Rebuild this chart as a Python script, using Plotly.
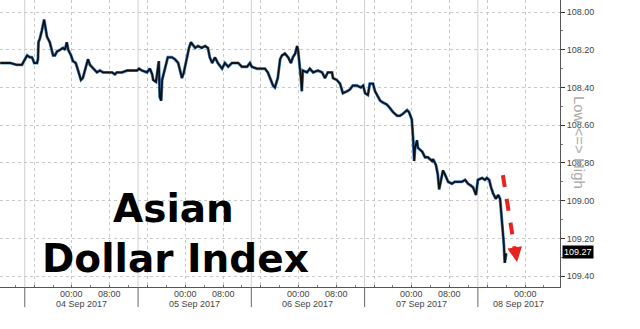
import plotly.graph_objects as go
import pandas as pd

# Hours relative to 04 Sep 2017 00:00 and index values
hours = [-15.2, -13.1, -11.7, -10.6, -10.4, -10.0, -9.5, -8.9, -8.5, -8.3, -8.0, -7.4, -7.2, -7.1, -6.8,
         -6.4, -6.1, -5.9, -5.5, -5.3, -4.7, -4.0, -3.6, -3.2, -2.5, -1.9, -1.5, -1.1, -0.8, -0.2,
         0.2, 0.8, 1.3, 1.9, 2.3, 2.8, 3.4, 3.8, 4.5, 5.3, 5.9, 6.6, 7.4, 8.5, 9.1, 9.5, 10.6, 11.7,
         12.7, 13.8, 14.2, 14.8, 15.9, 16.5, 17.0, 17.2, 17.8, 18.2, 18.4, 18.6, 18.9, 19.1, 19.5,
         20.1, 20.3, 21.2, 21.8, 22.5, 22.9, 23.3, 23.7, 24.4, 24.8, 25.2, 26.1, 26.7, 27.5, 28.2,
         28.8, 29.2, 29.7, 30.3, 30.9, 31.8, 32.4, 33.1, 33.9, 34.5, 35.2, 36.0, 37.1, 37.7, 38.1,
         39.2, 40.3, 40.9, 41.5, 42.2, 42.6, 43.0, 43.4, 43.6, 44.1, 44.5, 45.1, 45.8, 46.4, 46.8,
         47.3, 47.7, 47.9, 48.1, 48.5, 48.7, 48.9, 49.8, 50.4, 51.1, 52.1, 53.0, 53.6, 54.2, 55.1,
         55.3, 56.1, 56.8, 57.4, 58.3, 58.9, 59.5, 60.4, 61.2, 61.7, 62.1, 62.7, 63.1, 63.8, 64.2,
         64.6, 65.3, 65.9, 66.7, 67.4, 68.0, 68.9, 69.5, 70.1, 71.0, 71.4, 72.0, 72.3, 72.5, 72.7,
         73.1, 73.3, 74.2, 74.8, 75.4, 76.3, 76.5, 77.1, 77.5, 77.8, 78.2, 78.6, 79.0, 79.7, 80.5,
         81.1, 81.8, 82.6, 83.3, 83.9, 84.5, 85.0, 85.6, 86.0, 86.9, 87.5, 87.9, 88.4, 88.8, 89.2,
         89.8, 90.3, 90.7, 90.9, 91.3, 91.5, 91.7, 92.0]
values = [108.27, 108.27, 108.28, 108.28, 108.27, 108.25, 108.23, 108.24, 108.24, 108.25, 108.27, 108.27,
          108.25, 108.16, 108.14, 108.10, 108.05, 108.04, 108.10, 108.13, 108.16, 108.23, 108.23, 108.21,
          108.20, 108.19, 108.20, 108.16, 108.20, 108.23, 108.26, 108.27, 108.31, 108.36, 108.35, 108.30,
          108.25, 108.28, 108.30, 108.32, 108.31, 108.32, 108.32, 108.32, 108.33, 108.32, 108.32, 108.31,
          108.31, 108.31, 108.30, 108.31, 108.32, 108.30, 108.33, 108.36, 108.37, 108.27, 108.26, 108.45,
          108.47, 108.36, 108.32, 108.27, 108.24, 108.24, 108.25, 108.27, 108.32, 108.35, 108.32, 108.23,
          108.19, 108.16, 108.19, 108.18, 108.19, 108.18, 108.19, 108.24, 108.27, 108.24, 108.27, 108.30,
          108.27, 108.29, 108.27, 108.27, 108.27, 108.29, 108.29, 108.27, 108.29, 108.30, 108.30, 108.30,
          108.32, 108.36, 108.39, 108.40, 108.37, 108.35, 108.25, 108.23, 108.22, 108.24, 108.27, 108.24,
          108.22, 108.18, 108.20, 108.24, 108.35, 108.42, 108.31, 108.32, 108.30, 108.32, 108.31, 108.32,
          108.35, 108.32, 108.32, 108.35, 108.36, 108.38, 108.43, 108.42, 108.41, 108.39, 108.39, 108.40,
          108.39, 108.43, 108.44, 108.38, 108.38, 108.42, 108.44, 108.47, 108.48, 108.49, 108.51, 108.53,
          108.55, 108.55, 108.54, 108.52, 108.53, 108.57, 108.68, 108.79, 108.72, 108.68, 108.72, 108.74,
          108.77, 108.77, 108.79, 108.78, 108.81, 108.86, 108.94, 108.88, 108.84, 108.86, 108.90, 108.91,
          108.90, 108.90, 108.90, 108.89, 108.91, 108.92, 108.93, 108.97, 108.89, 108.88, 108.89, 108.88,
          108.89, 108.93, 108.96, 108.99, 108.97, 108.99, 109.05, 109.16, 109.23, 109.33, 109.28]

last_value = 109.27
arrow_hours = [91.3, 94.0]
arrow_values = [108.865, 109.29]
arrow_tip = (94.3, 109.326)

session_breaks_hours = [-10, 14, 38, 62, 86]          # 14:00 day separators
day_labels = ["04 Sep 2017", "05 Sep 2017", "06 Sep 2017", "07 Sep 2017", "08 Sep 2017"]
tick_hours = [-8, 0, 8, 16, 24, 32, 40, 48, 56, 64, 72, 80, 88, 96]
label_hours = [0, 8, 24, 32, 48, 56, 72, 80, 96]
label_texts = ["00:00", "08:00", "00:00", "08:00", "00:00", "08:00", "00:00", "08:00", "00:00"]
y_ticks = [108.00, 108.20, 108.40, 108.60, 108.80, 109.00, 109.20, 109.40]

base = pd.Timestamp("2017-09-04 00:00")
def ts(h):
    return base + pd.Timedelta(hours=h)

times = [ts(h) for h in hours]
x_start, x_end = ts(-15.25), ts(103.4)

fig = go.Figure()
fig.add_trace(go.Scatter(x=times, y=values, mode="lines",
                         line=dict(color="#4a86c8", width=3), hoverinfo="skip"))
fig.add_trace(go.Scatter(x=times, y=values, mode="lines",
                         line=dict(color="#111111", width=1.8)))
fig.add_trace(go.Scatter(x=[ts(h) for h in arrow_hours], y=arrow_values, mode="lines",
                         line=dict(color="#e8231f", width=4, dash="dash")))

tickvals = [ts(h) for h in tick_hours]
small = dict(family="Liberation Sans, Arial", size=9, color="#444")

fig.update_layout(
    width=640, height=329, margin=dict(l=0, r=80, t=0, b=42),
    paper_bgcolor="white", plot_bgcolor="white", showlegend=False,
    xaxis=dict(type="date", range=[x_start, x_end], tickmode="array",
               tickvals=tickvals, showticklabels=False,
               showgrid=True, gridcolor="#c8c8c8", griddash="dot", gridwidth=1,
               showline=True, linecolor="#555", linewidth=1,
               ticks="inside", ticklen=2, tickcolor="#666",
               minor=dict(tickmode="linear", tick0=ts(0), dtick=4 * 3600 * 1000,
                          ticks="inside", ticklen=2, tickcolor="#777", showgrid=False),
               zeroline=False, fixedrange=True),
    yaxis=dict(side="right", range=[109.458, 107.936], tickmode="array", tickvals=y_ticks,
               tickformat=".2f", tickfont=small,
               showgrid=True, gridcolor="#c8c8c8", griddash="dot", gridwidth=1,
               showline=True, linecolor="#555", linewidth=1,
               ticks="outside", ticklen=4, tickcolor="#333",
               minor=dict(tickmode="linear", tick0=108.0, dtick=0.1, ticks="outside",
                          ticklen=2, tickcolor="#777", showgrid=False),
               zeroline=False, fixedrange=True),
)

shapes = []
for h in session_breaks_hours:
    shapes.append(dict(type="line", xref="x", yref="paper", x0=ts(h), x1=ts(h), y0=0, y1=1,
                       line=dict(color="#cfcfcf", width=1), layer="below"))
    shapes.append(dict(type="line", xref="x", yref="paper", x0=ts(h), x1=ts(h), y0=0, y1=-0.07,
                       line=dict(color="#666", width=1)))
fig.update_layout(shapes=shapes)

annotations = []
# arrow head
annotations.append(dict(x=ts(arrow_tip[0]), y=arrow_tip[1], xref="x", yref="y",
                        ax=ts(arrow_hours[0]), ay=arrow_values[0], axref="x", ayref="y",
                        showarrow=True, arrowhead=2, arrowsize=0.85, arrowwidth=3.5,
                        arrowcolor="#e8231f", text="", standoff=0,
                        startstandoff=75))
for h, t in zip(label_hours, label_texts):
    annotations.append(dict(x=ts(h), y=-0.024, xref="x", yref="paper", text=t,
                            showarrow=False, font=small, xanchor="center", yanchor="middle"))
bounds = session_breaks_hours + [103.4]
for i, lab in enumerate(day_labels):
    mid = (bounds[i] + bounds[i + 1]) / 2
    annotations.append(dict(x=ts(mid), y=-0.058, xref="x", yref="paper", text=lab,
                            showarrow=False, font=small, xanchor="center", yanchor="middle"))

big = dict(family="DejaVu Sans", size=39, color="black", weight="bold")
annotations.append(dict(x=0.309, y=0.272, xref="paper", yref="paper", text="Asian",
                        showarrow=False, font=big, xanchor="center", yanchor="middle"))
annotations.append(dict(x=0.314, y=0.100, xref="paper", yref="paper", text="Dollar Index",
                        showarrow=False, font=big, xanchor="center", yanchor="middle"))
annotations.append(dict(x=1.036, y=0.505, xref="paper", yref="paper", text="Low <=> High",
                        textangle=90, showarrow=False,
                        font=dict(family="Liberation Sans, Arial", size=15, color="#aaaaaa"),
                        xanchor="center", yanchor="middle"))
annotations.append(dict(x=1, y=last_value, xref="paper", yref="y", text=f"{last_value:.2f}",
                        showarrow=False, xanchor="left", yanchor="middle", xshift=2,
                        bgcolor="black", borderpad=1,
                        font=dict(family="Liberation Sans, Arial", size=9, color="white")))
fig.update_layout(annotations=annotations)

fig.write_html("out.html")
